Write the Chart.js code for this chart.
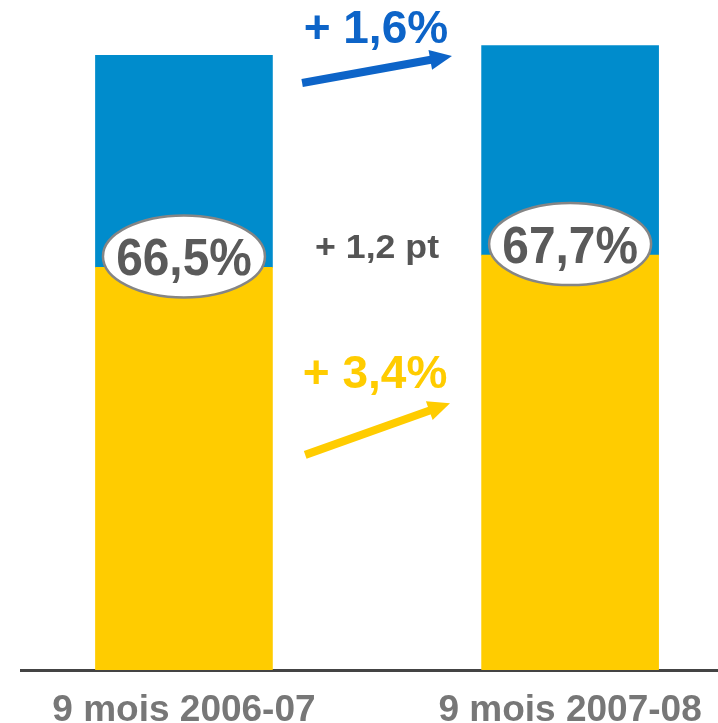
<!DOCTYPE html>
<html>
<head>
<meta charset="utf-8">
<script src="https://cdn.jsdelivr.net/npm/chart.js@4/dist/chart.umd.min.js"></script>
<style>
    html, body { margin: 0; padding: 0; background: #fff; }
    .box { width: 718px; height: 723px; }
</style>
</head>
<body>
<div class="box">
    <canvas id="stats"></canvas>
</div>
<script>
    // periodes et valeurs (base 100 = total de la 1re periode)
    var periods = ['9 mois 2006-07', '9 mois 2007-08'];
    var yellowPart = [65.5, 67.5];
    var bluePart = [34.5, 34.1];
    var shareLabels = ['66,5%', '67,7%'];
    var growthBlue = '+ 1,6%';
    var growthYellow = '+ 3,4%';
    var shareDiff = '+ 1,2 pt';

    var FONT = '"Liberation Sans", Arial, sans-serif';

    function arrow(ctx, x1, y1, x2, y2, color) {
        var a = Math.atan2(y2 - y1, x2 - x1);
        var hl = 22, hw = 10;
        var bx = x2 - hl * Math.cos(a), by = y2 - hl * Math.sin(a);
        ctx.strokeStyle = color;
        ctx.fillStyle = color;
        ctx.lineWidth = 8;
        ctx.lineCap = 'butt';
        ctx.beginPath();
        ctx.moveTo(x1, y1);
        ctx.lineTo(bx + 2 * Math.cos(a), by + 2 * Math.sin(a));
        ctx.stroke();
        ctx.beginPath();
        ctx.moveTo(x2, y2);
        ctx.lineTo(bx + hw * Math.sin(a), by - hw * Math.cos(a));
        ctx.lineTo(bx - hw * Math.sin(a), by + hw * Math.cos(a));
        ctx.closePath();
        ctx.fill();
    }

    var notes = {
        id: 'notes',
        afterDatasetsDraw: function (chart) {
            var ctx = chart.ctx;
            var xs = chart.scales.x, ys = chart.scales.y;
            ctx.save();
            // ellipses de part
            for (var i = 0; i < periods.length; i++) {
                var cx = xs.getPixelForValue(i + 1);
                var cy = ys.getPixelForValue(yellowPart[i]) - 11;
                ctx.beginPath();
                ctx.ellipse(cx, cy, 81, 41, 0, 0, Math.PI * 2);
                ctx.fillStyle = '#fff';
                ctx.fill();
                ctx.lineWidth = 2.5;
                ctx.strokeStyle = '#858585';
                ctx.stroke();
                ctx.save();
                ctx.translate(cx, cy + 19);
                ctx.scale(0.92, 1);
                ctx.font = 'bold 52px ' + FONT;
                ctx.fillStyle = '#5a5a5a';
                ctx.textAlign = 'center';
                ctx.textBaseline = 'alphabetic';
                ctx.fillText(shareLabels[i], 0, 0);
                ctx.restore();
            }
            ctx.textAlign = 'center';
            ctx.textBaseline = 'alphabetic';
            ctx.font = 'bold 46px ' + FONT;
            ctx.fillStyle = '#0d64c8';
            ctx.fillText(growthBlue, xs.getPixelForValue(1.497), ys.getPixelForValue(102));
            arrow(ctx, xs.getPixelForValue(1.306), ys.getPixelForValue(95.5),
                xs.getPixelForValue(1.694), ys.getPixelForValue(99.9), '#0d64c8');

            ctx.fillStyle = '#ffcc00';
            ctx.fillText(growthYellow, xs.getPixelForValue(1.495), ys.getPixelForValue(45.9));
            arrow(ctx, xs.getPixelForValue(1.314), ys.getPixelForValue(35.0),
                xs.getPixelForValue(1.689), ys.getPixelForValue(43.4), '#ffcc00');

            ctx.fillStyle = '#555';
            ctx.font = 'bold 34px ' + FONT;
            ctx.save();
            ctx.translate(xs.getPixelForValue(1.5), ys.getPixelForValue(67.0));
            ctx.scale(1.05, 1);
            ctx.fillText(shareDiff, 0, 0);
            ctx.restore();
            ctx.restore();
        }
    };

    var ctx = document.getElementById('stats').getContext('2d');
    new Chart(ctx, {
        type: 'bar',
        data: {
            datasets: [{
                data: yellowPart.map(function (v, i) { return {x: i + 1, y: v}; }),
                backgroundColor: '#ffcc00',
                barThickness: 177
            }, {
                data: bluePart.map(function (v, i) { return {x: i + 1, y: v}; }),
                backgroundColor: '#008ccc',
                barThickness: 177
            }]
        },
        options: {
            maintainAspectRatio: false,
            animation: false,
            layout: {padding: {left: 21, right: 0, top: 0, bottom: 0}},
            plugins: {legend: {display: false}, tooltip: {enabled: false}},
            scales: {
                x: {
                    type: 'linear',
                    stacked: true,
                    offset: false,
                    min: 0.578,
                    max: 2.383,
                    afterBuildTicks: function (scale) {
                        scale.ticks = periods.map(function (p, i) { return {value: i + 1}; });
                    },
                    afterFit: function (scale) {
                        scale.height = 53;
                        scale.paddingLeft = 0;
                        scale.paddingRight = 0;
                    },
                    ticks: {
                        autoSkip: false,
                        maxRotation: 0,
                        padding: 19,
                        color: '#777',
                        font: {family: FONT, size: 37, weight: 'bold'},
                        callback: function (v) { return periods[v - 1]; }
                    },
                    grid: {display: false, drawTicks: false},
                    border: {display: true, color: '#444', width: 3}
                },
                y: {
                    stacked: true,
                    display: false,
                    min: 0,
                    max: 109
                }
            }
        },
        plugins: [notes]
    });
</script>
</body>
</html>
